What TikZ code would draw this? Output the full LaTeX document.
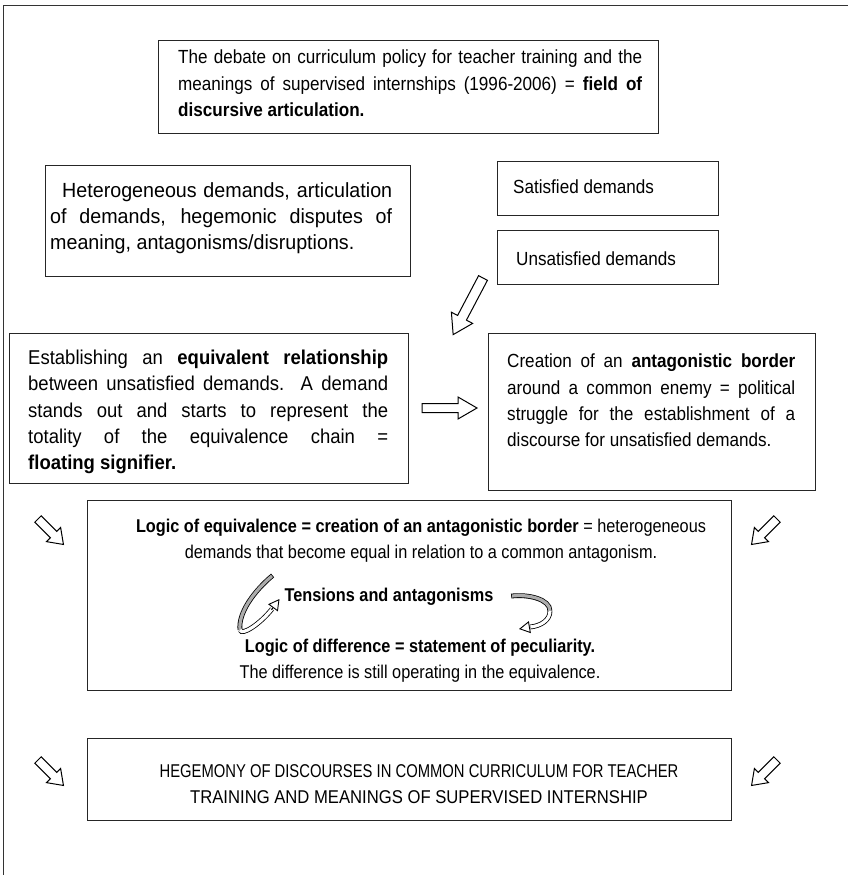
\documentclass[tikz,border=0pt]{standalone}
\usepackage{fontspec}
\setmainfont{Liberation Sans}[FakeStretch=0.9]
\newfontfamily\fTwo{Liberation Sans}[FakeStretch=0.96]
\newfontfamily\fFive{Liberation Sans}[FakeStretch=0.925]
\newfontfamily\fSeven{Liberation Sans}[FakeStretch=0.88]
\newfontfamily\fEightA{Liberation Sans}[FakeStretch=0.8]
\newfontfamily\fEightB{Liberation Sans}[FakeStretch=0.9]
\usetikzlibrary{fit,arrows.meta}
\newcommand\parset{\parindent=0pt\hyphenpenalty=10000\tolerance=9999\relax}
\newcommand\fsz{\fontsize{19}{26.3}\selectfont\parset}
\newcommand\fszTwo{\fTwo\fontsize{20.5}{26}\selectfont\parset}
\newcommand\fszFive{\fFive\fontsize{20}{26.2}\selectfont\parset}
\newcommand\fszSeven{\fSeven\fontsize{18.5}{26}\selectfont\parset}
\newcommand\fszEight{\fontsize{18.5}{26}\selectfont\parset}
\newcommand\blockarr[7]{% x,y,angle,length,shaft,headw,headl
 \begin{scope}[shift={(#1,#2)},rotate=#3]
 \draw[barrow] (0,#5/2) -- (#4-#7,#5/2) -- (#4-#7,#6/2) -- (#4,0) -- (#4-#7,-#6/2) -- (#4-#7,-#5/2) -- (0,-#5/2) -- cycle;
 \end{scope}}
\begin{document}
\begin{tikzpicture}[x=1pt,y=-1pt,
  box/.style={draw=black!85, line width=0.9pt, inner sep=0pt},
  txt/.style={inner sep=0pt, font=\fsz, align=justify, anchor=north west},
  ctxt/.style={inner sep=0pt, align=center, anchor=north},
  barrow/.style={draw=black, line width=1pt, fill=white, line join=miter},
  frame/.style={draw=black!80, line width=0.8pt},
  ribout/.style={line width=4.8pt, black},
  ribgray/.style={line width=3.2pt, gray!65},
  ribwhite/.style={line width=3.2pt, white},
  curlhead/.style={line width=0.9pt, -{Triangle[length=11pt,width=12pt,fill=white]}}]
\useasboundingbox (0,0) rectangle (848,875);
\fill[white] (0,0) rectangle (848,875);
% outer frame
\draw[frame] (848,5) -- (3.5,5) -- (3.5,875);
% boxes
\node[box, fit={(158,40) (658,133)}] (b1) {};
\node[box, fit={(45,165) (410,276)}] (b2) {};
\node[box, fit={(497,161) (718,215)}] (b3) {};
\node[box, fit={(497,230) (718,284)}] (b4) {};
\node[box, fit={(9,333) (408,483)}] (b5) {};
\node[box, fit={(488,333) (815,490)}] (b6) {};
\node[box, fit={(87,500) (731,690)}] (b7) {};
\node[box, fit={(87,738) (731,820)}] (b8) {};
% texts
\node[txt, text width=464pt] (t1) at (178,50) {The debate on curriculum policy for teacher training and the\linebreak meanings of supervised internships (1996-2006) = \textbf{field of}\linebreak \textbf{discursive articulation.}};
\node[txt, font=\fszTwo, text width=342pt] (t2) at (50,182) {\hspace*{12pt}Heterogeneous demands, articulation\linebreak of demands, hegemonic disputes of\linebreak meaning, antagonisms/disruptions.};
\node[inner sep=0pt, font=\fsz, anchor=base west] (t3) at (513,193) {Satisfied demands};
\node[inner sep=0pt, font=\fsz, anchor=base west] (t4) at (516,265) {Unsatisfied demands};
\node[txt, font=\fszFive, text width=360pt] (t5) at (28,350) {Establishing an \textbf{equivalent relationship}\linebreak between unsatisfied demands. A demand\linebreak stands out and starts to represent the\linebreak totality of the equivalence chain =\linebreak \textbf{floating signifier.}};
\node[txt, text width=288pt] (t6) at (507,354) {Creation of an \textbf{antagonistic border}\linebreak around a common enemy = political\linebreak struggle for the establishment of a\linebreak discourse for unsatisfied demands.};
\node[ctxt, font=\fszSeven] (t7) at (421,519) {\textbf{Logic of equivalence = creation of an antagonistic border} = heterogeneous\\ demands that become equal in relation to a common antagonism.};
\node[inner sep=0pt, font=\fszSeven\bfseries, anchor=base] (t8) at (389,601) {Tensions and antagonisms};
\node[ctxt, font=\fszSeven] (t9) at (420,639) {\textbf{Logic of difference = statement of peculiarity.}\\ The difference is still operating in the equivalence.};
\node[ctxt, font=\fszEight] (t10) at (419,764) {{\fEightA HEGEMONY OF DISCOURSES IN COMMON CURRICULUM FOR TEACHER}\\ {\fEightB TRAINING AND MEANINGS OF SUPERVISED INTERNSHIP}};
% block arrows
\blockarr{483}{278}{-117.8}{64}{10}{24}{19}
\blockarr{422}{408}{0}{55}{9}{22}{19}
\blockarr{38}{519}{-45}{36}{9}{20}{14}
\blockarr{777}{519}{-135}{36}{9}{20}{14}
\blockarr{38}{760}{-45}{36}{9}{20}{14}
\blockarr{777}{760}{-135}{36}{9}{20}{14}
% left curl
\draw[ribout, shorten <=-0.8pt] (272,576) .. controls (254,591) and (238,613) .. (240,630);
\draw[ribout] (240,630) .. controls (242,636) and (260,624) .. (272,609);
\draw[ribgray] (272,576) .. controls (254,591) and (238,613) .. (240,630);
\draw[ribwhite] (240,630) .. controls (242,636) and (260,624) .. (272,609);
\coordinate (lh1) at (271.5,609.8);
\coordinate (lh2) at (279.5,599);
\draw[curlhead] (lh1) -- (lh2);
% right curl
\draw[ribout, shorten <=-0.8pt] (512,596) .. controls (528,594) and (550,599) .. (550,611);
\draw[ribout] (550,611) .. controls (550,620) and (541,626) .. (530,627);
\draw[ribgray] (512,596) .. controls (528,594) and (550,599) .. (550,611);
\draw[ribwhite] (550,611) .. controls (550,620) and (541,626) .. (530,627);
\coordinate (rh1) at (530.6,627);
\coordinate (rh2) at (519,629);
\draw[curlhead] (rh1) -- (rh2);
\end{tikzpicture}
\end{document}
